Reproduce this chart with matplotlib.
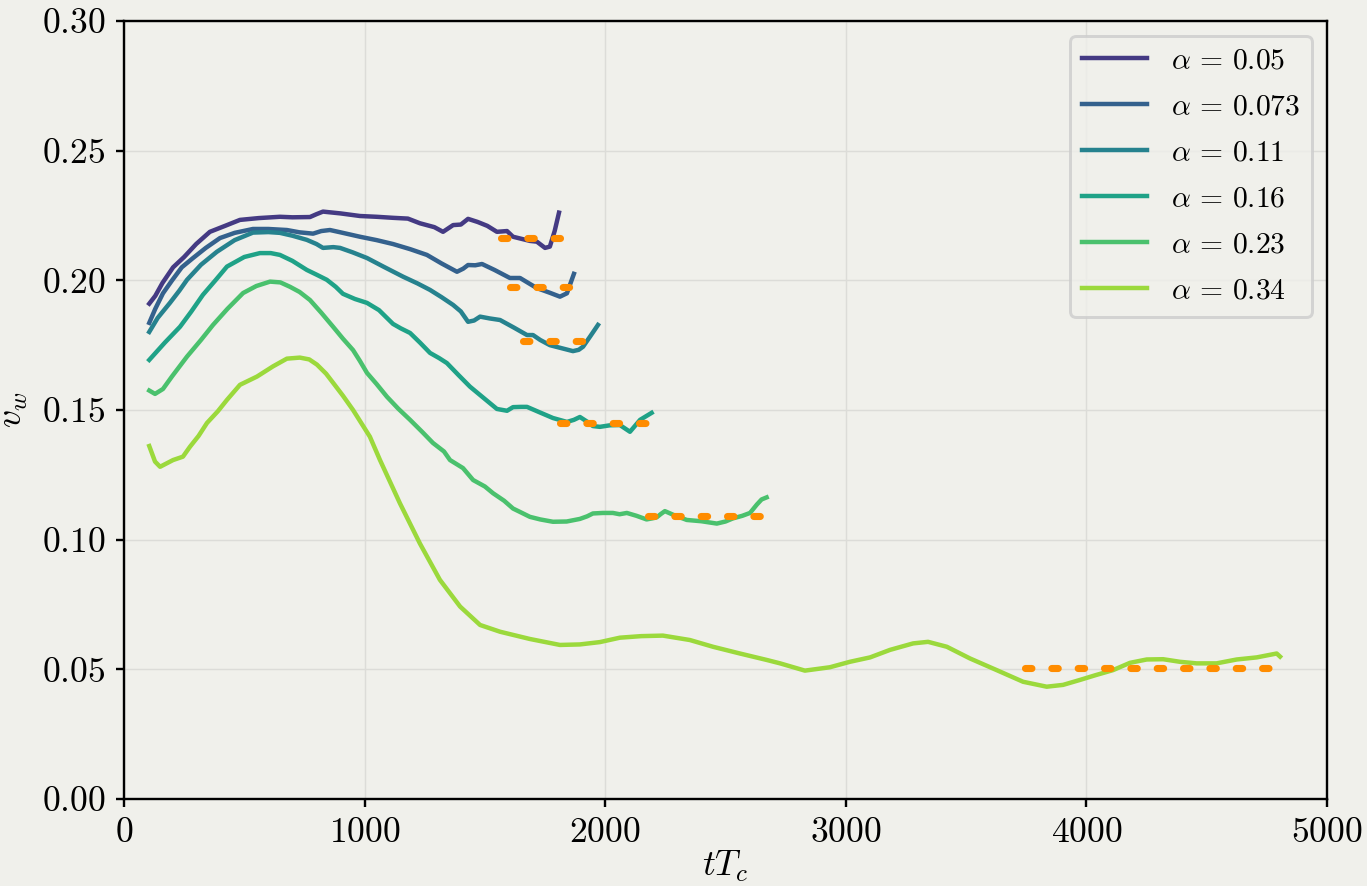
import matplotlib
matplotlib.use("Agg")
import matplotlib.pyplot as plt
import numpy as np

plt.rcParams['font.family'] = 'serif'
plt.rcParams['font.serif'] = ['cmr10']
plt.rcParams['mathtext.fontset'] = 'cm'
plt.rcParams['axes.formatter.use_mathtext'] = True
plt.rcParams['font.size'] = 12

alphas = ['0.05', '0.073', '0.11', '0.16', '0.23', '0.34']

t1 = [105, 130, 160, 204, 250, 300, 357, 420, 482, 560, 648, 700, 773, 800, 827, 900, 981, 1050,
      1118, 1180, 1230, 1290, 1326, 1368, 1400, 1430, 1470, 1510, 1550, 1592, 1617, 1687, 1716,
      1750, 1770, 1790, 1808]
v1 = [0.191, 0.194, 0.199, 0.205, 0.209, 0.214, 0.2187, 0.221, 0.2233, 0.224, 0.2245, 0.2243,
      0.2244, 0.2255, 0.2265, 0.2258, 0.2248, 0.2245, 0.2241, 0.2238, 0.222, 0.2205, 0.2187, 0.2213,
      0.2215, 0.2237, 0.2225, 0.221, 0.2187, 0.219, 0.2168, 0.2152, 0.2149, 0.2125, 0.213, 0.219,
      0.2261]

t2 = [105, 130, 162, 200, 240, 287, 340, 399, 460, 536, 600, 677, 730, 786, 820, 856, 900, 981,
      1050, 1118, 1190, 1259, 1320, 1384, 1410, 1430, 1460, 1488, 1540, 1604, 1646, 1680, 1716,
      1770, 1812, 1841, 1870]
v2 = [0.1836, 0.189, 0.195, 0.2, 0.205, 0.2086, 0.2125, 0.2163, 0.2183, 0.2198, 0.2198, 0.2194,
      0.2185, 0.218, 0.219, 0.2194, 0.2185, 0.2168, 0.2155, 0.214, 0.212, 0.2098, 0.2065, 0.2033,
      0.2045, 0.2059, 0.2058, 0.2063, 0.204, 0.2009, 0.2009, 0.199, 0.197, 0.1952, 0.1937, 0.195,
      0.2025]

t3 = [105, 140, 191, 230, 262, 320, 386, 460, 536, 600, 648, 700, 760, 800, 827, 870, 898, 950,
      1010, 1080, 1160, 1220, 1272, 1320, 1368, 1400, 1430, 1455, 1480, 1520, 1563, 1620, 1675,
      1700, 1730, 1770, 1820, 1866, 1890, 1908, 1940, 1970]
v3 = [0.1801, 0.1855, 0.1913, 0.196, 0.2002, 0.206, 0.211, 0.2155, 0.2184, 0.2186, 0.2183, 0.2172,
      0.2156, 0.214, 0.2125, 0.2128, 0.2125, 0.2108, 0.2086, 0.2052, 0.2014, 0.1988, 0.1963, 0.1935,
      0.1905, 0.188, 0.184, 0.1845, 0.186, 0.1853, 0.1847, 0.1818, 0.1789, 0.1789, 0.177, 0.175,
      0.1738, 0.1727, 0.1732, 0.1744, 0.1787, 0.1828]

t4 = [105, 170, 233, 280, 328, 380, 428, 500, 565, 610, 648, 700, 760, 800, 843, 880, 910, 960,
      1010, 1060, 1118, 1150, 1189, 1230, 1272, 1310, 1342, 1390, 1438, 1490, 1550, 1592, 1617,
      1650, 1675, 1730, 1783, 1841, 1870, 1895, 1925, 1949, 1978, 2020, 2061, 2103, 2125, 2145,
      2193]
v4 = [0.1693, 0.176, 0.1821, 0.188, 0.1944, 0.2, 0.2053, 0.209, 0.2105, 0.2105, 0.2098, 0.2075,
      0.204, 0.2022, 0.2002, 0.1975, 0.1948, 0.1928, 0.1913, 0.1885, 0.1832, 0.1815, 0.1797, 0.176,
      0.172, 0.17, 0.1681, 0.1635, 0.159, 0.155, 0.1504, 0.1497, 0.1511, 0.1512, 0.1512, 0.149,
      0.1469, 0.1454, 0.1462, 0.1473, 0.1455, 0.1438, 0.1435, 0.1441, 0.1442, 0.1416, 0.144,
      0.1462, 0.1489]

t5 = [105, 129, 162, 200, 262, 320, 370, 430, 495, 550, 607, 650, 690, 730, 773, 820, 869, 910,
      952, 980, 1010, 1050, 1093, 1140, 1189, 1240, 1284, 1330, 1355, 1409, 1451, 1500, 1534,
      1580, 1617, 1650, 1687, 1730, 1783, 1840, 1895, 1925, 1949, 1990, 2032, 2060, 2090, 2130,
      2172, 2195, 2214, 2230, 2248, 2290, 2339, 2400, 2464, 2500, 2531, 2570, 2602, 2630, 2650,
      2671]
v5 = [0.1575, 0.1562, 0.1581, 0.163, 0.1706, 0.177, 0.1828, 0.189, 0.1951, 0.1978, 0.1995,
      0.1992, 0.1975, 0.1955, 0.1924, 0.1875, 0.1821, 0.1775, 0.1731, 0.169, 0.1643, 0.16, 0.1551,
      0.1505, 0.1462, 0.1415, 0.1373, 0.134, 0.1307, 0.1276, 0.123, 0.1205, 0.1179, 0.115, 0.112,
      0.1105, 0.1088, 0.1078, 0.1069, 0.107, 0.108, 0.109, 0.1101, 0.1103, 0.1103, 0.1098, 0.1103,
      0.1092, 0.1078, 0.1082, 0.1086, 0.1098, 0.111, 0.1093, 0.1076, 0.1071, 0.1062, 0.107, 0.1082,
      0.1092, 0.1103, 0.1135, 0.1155, 0.1163]

t6 = [105, 129, 150, 179, 204, 245, 274, 310, 345, 390, 428, 482, 553, 619, 677, 731, 770, 802,
      840, 869, 910, 952, 1022, 1064, 1147, 1230, 1313, 1397, 1480, 1563, 1687, 1812, 1895, 1978,
      2061, 2150, 2240, 2352, 2448, 2560, 2672, 2727, 2830, 2934, 3017, 3101, 3184, 3280, 3342,
      3420, 3516, 3627, 3737, 3835, 3903, 3973, 4040, 4111, 4181, 4251, 4319, 4389, 4458, 4541,
      4625, 4708, 4791, 4805]
v6 = [0.1361, 0.1301, 0.1281, 0.1295, 0.1307, 0.132, 0.1358, 0.14, 0.145, 0.1495, 0.1539, 0.1597,
      0.1629, 0.1668, 0.1698, 0.1702, 0.1695, 0.1675, 0.164, 0.1605, 0.1555, 0.15, 0.1397, 0.1307,
      0.114, 0.0985, 0.0845, 0.0742, 0.0671, 0.0645, 0.0617, 0.0594, 0.0596, 0.0605, 0.0622, 0.0628,
      0.063, 0.0613, 0.0587, 0.0561, 0.0536, 0.0523, 0.0495, 0.0508, 0.0529, 0.0546, 0.0575, 0.06,
      0.0606, 0.0587, 0.0542, 0.0497, 0.0452, 0.0433, 0.044, 0.0459, 0.0478, 0.0497, 0.0525, 0.0538,
      0.0539, 0.0529, 0.0523, 0.0523, 0.0538, 0.0546, 0.0561, 0.0549]

# average wall speed over the late-time window
mean_v = [0.2165, 0.1975, 0.1766, 0.145, 0.1091, 0.0506]
mean_start = [1568, 1604, 1658, 1812, 2178, 3745]
mean_end = [1811, 1866, 1924, 2195, 2668, 4784]

times = [t1, t2, t3, t4, t5, t6]
speeds = [v1, v2, v3, v4, v5, v6]

bg = '#f0f0eb'
colors = plt.cm.viridis(np.linspace(0.17, 0.85, len(alphas)))

fig = plt.figure(figsize=(6.4, 4.148), dpi=213.6, facecolor=bg)
ax = fig.add_axes([0.0907, 0.0982, 0.88, 0.8781])
ax.set_facecolor(bg)

for t, v, a, c in zip(times, speeds, alphas, colors):
    ax.plot(t, v, color=c, lw=1.5, label=r'$\alpha \,=\, %s$' % a)

for m, s, e in zip(mean_v, mean_start, mean_end):
    ax.plot([s, e], [m, m], color='#ff8c00', lw=2.4, dashes=(0.9, 2.8),
            dash_capstyle='round', zorder=3)

ax.set_xlim(0, 5000)
ax.set_ylim(0, 0.30)
ax.set_xticks([0, 1000, 2000, 3000, 4000, 5000])
ax.set_yticks([0, 0.05, 0.10, 0.15, 0.20, 0.25, 0.30])
ax.tick_params(length=2.6, pad=3.5)
ax.grid(True, color='#dcdcd8', lw=0.5)
ax.set_axisbelow(True)
ax.set_xlabel(r'$tT_c$', labelpad=0)
ax.set_ylabel(r'$v_w$', labelpad=4)
ax.legend(loc='upper right', facecolor=bg, edgecolor='#cccccc', fontsize=10,
          labelspacing=0.65, handlelength=2.2)

fig.savefig('out.png', dpi=213.6, facecolor=bg)
